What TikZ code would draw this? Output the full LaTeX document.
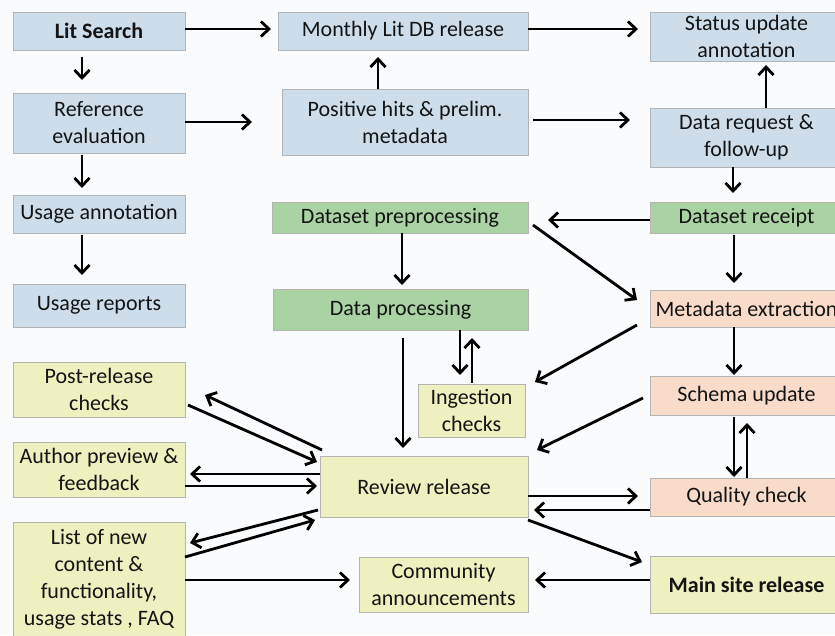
\documentclass[tikz,border=0pt]{standalone}
\usepackage{fontspec}
\setmainfont{Carlito}
\usetikzlibrary{calc,arrows.meta}
\definecolor{bgc}{HTML}{FAFBFD}
\definecolor{bluec}{HTML}{CDDEEA}
\definecolor{greenc}{HTML}{A9D3A3}
\definecolor{salmc}{HTML}{F8DBC9}
\definecolor{yelc}{HTML}{EEF0C0}
\definecolor{edgec}{HTML}{B4B4B4}
\definecolor{txtc}{HTML}{141414}
\tikzset{
  box/.style={draw=edgec, line width=0.9pt, inner sep=0pt, outer sep=0pt, align=center,
    text=txtc, font=\fontsize{22}{27}\selectfont},
  bbox/.style={box, fill=bluec},
  gbox/.style={box, fill=greenc},
  sbox/.style={box, fill=salmc},
  ybox/.style={box, fill=yelc},
  arr/.style={-{Straight Barb[length=8pt,width=15pt]}, line width=2.8pt, black}
}
\begin{document}
\begin{tikzpicture}[x=1pt,y=-1pt]
\path[use as bounding box, fill=bgc] (0,0) rectangle (835,635);
% blue
\node[bbox, minimum width=172pt, minimum height=38pt] (lit) at (99,31) {\textbf{Lit Search}};
\node[bbox, minimum width=250pt, minimum height=38pt] (monthly) at (403,31) {Monthly Lit DB release};
\node[bbox, minimum width=193pt, minimum height=49pt] (status) at (746.5,36.5) {Status update\\annotation};
\node[bbox, minimum width=172pt, minimum height=60pt] (ref) at (99,123) {Reference\\evaluation};
\node[bbox, minimum width=246pt, minimum height=66pt] (pos) at (405,122) {Positive hits \& prelim.\\metadata};
\node[bbox, minimum width=193pt, minimum height=59pt] (datareq) at (746.5,137.5) {Data request \&\\follow-up};
\node[bbox, minimum width=172pt, minimum height=38pt] (usageann) at (99,214) {Usage annotation};
\node[bbox, minimum width=172pt, minimum height=43pt] (usagerep) at (99,305.5) {Usage reports};
% green
\node[gbox, minimum width=256pt, minimum height=31pt] (prep) at (400,217.5) {Dataset preprocessing};
\node[gbox, minimum width=255pt, minimum height=41pt] (proc) at (400.5,309.5) {Data processing};
\node[gbox, minimum width=193pt, minimum height=31pt] (receipt) at (746.5,217.5) {Dataset receipt};
% salmon
\node[sbox, minimum width=193pt, minimum height=37pt] (meta) at (746.5,308.5) {Metadata extraction};
\node[sbox, minimum width=193pt, minimum height=39pt] (schema) at (746.5,395.5) {Schema update};
\node[sbox, minimum width=193pt, minimum height=38pt] (quality) at (746.5,497) {Quality check};
% yellow
\node[ybox, minimum width=172pt, minimum height=55pt] (post) at (99,389.5) {Post-release\\checks};
\node[ybox, minimum width=172pt, minimum height=55pt] (author) at (99,469.5) {Author preview \&\\feedback};
\node[ybox, minimum width=172pt, minimum height=115pt] (list) at (99,579.5) {List of new\\content \&\\functionality,\\usage stats , FAQ};
\node[ybox, minimum width=208pt, minimum height=61pt] (review) at (424,486.5) {Review release};
\node[ybox, minimum width=107pt, minimum height=53pt] (ingest) at (471.5,410.5) {Ingestion\\checks};
\node[ybox, minimum width=169pt, minimum height=55pt] (community) at (443.5,584.5) {Community\\announcements};
\node[ybox, minimum width=193pt, minimum height=57pt] (mainsite) at (746.5,584.5) {\textbf{Main site release}};
% arrows
\draw[arr] ($(lit.east)+(0,-2)$) -- ($(monthly.west)+(-7,-2)$);
\draw[arr] ($(lit.south)+(-17,7)$) -- ($(ref.north)+(-17,-13)$);
\draw[arr] ($(pos.north)+(-27,0)$) -- ($(monthly.south)+(-25,7)$);
\draw[arr] ($(ref.east)+(0,-1)$) -- ($(pos.west)+(-30,0)$);
\draw[arr] ($(monthly.east)+(0,-2)$) -- ($(status.west)+(-12,-7.5)$);
\draw[arr] ($(pos.east)+(5,-2)$) -- ($(datareq.west)+(-20,-17.5)$);
\draw[arr] ($(datareq.north)+(19.5,0)$) -- ($(status.south)+(19.5,4)$);
\draw[arr] ($(ref.south)+(-17,2)$) -- ($(usageann.north)+(-17,-7)$);
\draw[arr] ($(usageann.south)+(-17,2)$) -- ($(usagerep.north)+(-17,-9)$);
\draw[arr] ($(datareq.south)+(-13.5,0)$) -- ($(receipt.north)+(-13.5,-9)$);
\draw[arr] ($(receipt.west)+(0,2.5)$) -- ($(prep.east)+(20,2.5)$);
\draw[arr] ($(prep.east)+(5,7.5)$) -- ($(meta.west)+(-13,-8.5)$);
\draw[arr] ($(receipt.south)+(-12.5,2)$) -- ($(meta.north)+(-12.5,-7)$);
\draw[arr] ($(prep.south)+(2,0)$) -- ($(proc.north)+(1.5,-4)$);
\draw[arr] ($(proc.south)+(59.5,0)$) -- ($(ingest.north)+(-11.5,-9)$);
\draw[arr] ($(ingest.north)+(0.5,-1)$) -- ($(proc.south)+(71.5,8)$);
\draw[arr] ($(meta.west)+(-13,16.5)$) -- ($(ingest.north east)+(10,-2)$);
\draw[arr] ($(meta.south)+(-12.5,0)$) -- ($(schema.north)+(-12.5,-1)$);
\draw[arr] ($(schema.west)+(-7,2.5)$) -- ($(review.north east)+(9,-6)$);
\draw[arr] ($(schema.south)+(-12.5,2)$) -- ($(quality.north)+(-12.5,-1)$);
\draw[arr] ($(quality.north)+(0.5,0)$) -- ($(schema.south)+(0.5,8)$);
\draw[arr] ($(review.east)+(0,9.5)$) -- ($(quality.west)+(-12,-1)$);
\draw[arr] ($(quality.west)+(0,13)$) -- ($(review.east)+(6,23.5)$);
\draw[arr] ($(proc.south)+(2.5,8)$) -- ($(review.north)+(-21,-8)$);
\draw[arr] ($(post.east)+(3,15.5)$) -- ($(review.north west)+(-3,6)$);
\draw[arr] ($(review.north west)+(2,-6)$) -- ($(post.east)+(20,5.5)$);
\draw[arr] ($(review.west)+(0,-12.5)$) -- ($(author.east)+(5,4.5)$);
\draw[arr] ($(author.east)+(0,16.5)$) -- ($(review.west)+(-3,-0.5)$);
\draw[arr] ($(review.west)+(-2,23.5)$) -- ($(list.north east)+(5,21)$);
\draw[arr] ($(list.north east)+(0,35)$) -- ($(review.south west)+(-5,3)$);
\draw[arr] ($(list.north east)+(0,58)$) -- ($(community.west)+(-9,-4.5)$);
\draw[arr] ($(mainsite.west)+(0,-4.5)$) -- ($(community.east)+(7,-4.5)$);
\draw[arr] ($(review.south east)+(0,3)$) -- ($(mainsite.north west)+(-8,6)$);
\end{tikzpicture}
\end{document}
